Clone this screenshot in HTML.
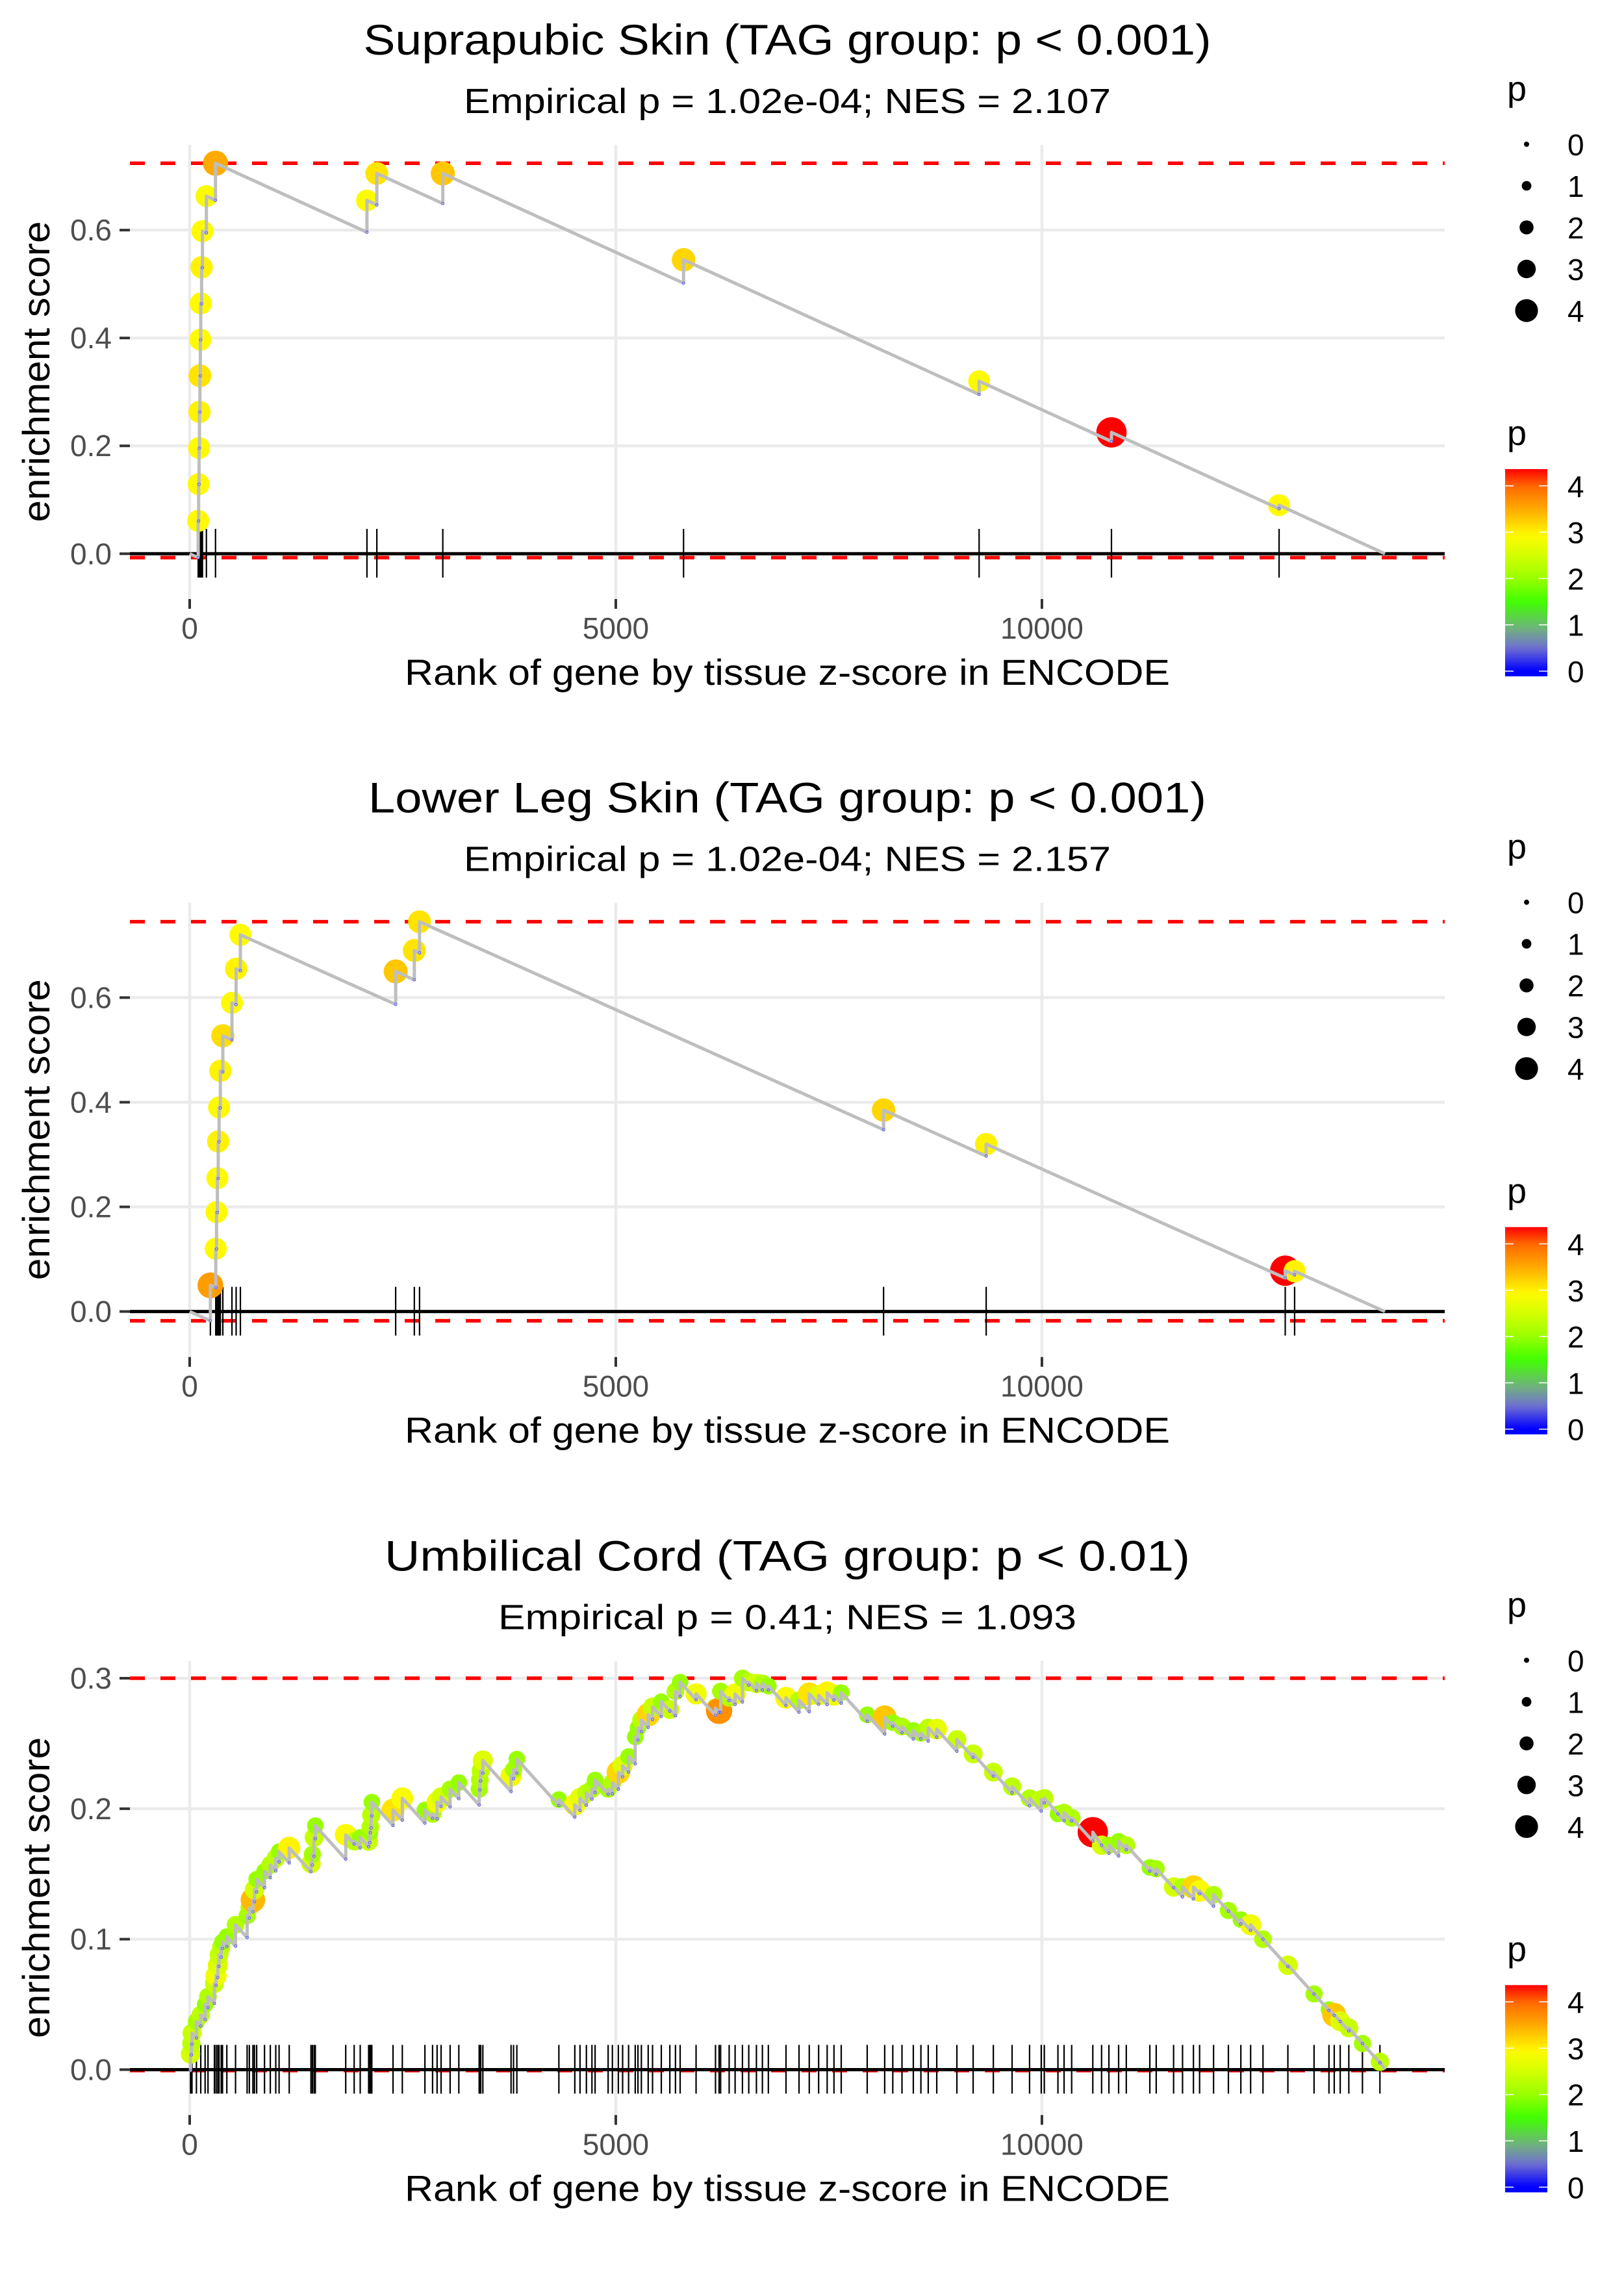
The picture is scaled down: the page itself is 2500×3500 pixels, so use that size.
<!DOCTYPE html>
<html><head><meta charset="utf-8">
<style>
html,body{margin:0;padding:0;background:#fff;}
svg{display:block;font-family:"Liberation Sans",Arial,sans-serif;}
</style></head>
<body>
<svg id="chart" width="2500" height="3500" viewBox="0 0 2500 3500" xmlns="http://www.w3.org/2000/svg"></svg>
<script>
// ---------- data ----------
const totalGenes = 14025;
const xTicks = [0, 5000, 10000];
const xTickLabels = ["0", "5000", "10000"];

const titles = ["Suprapubic Skin (TAG group: p < 0.001)", "Lower Leg Skin (TAG group: p < 0.001)", "Umbilical Cord (TAG group: p < 0.01)"];
const subtitles = ["Empirical p = 1.02e-04; NES = 2.107", "Empirical p = 1.02e-04; NES = 2.157", "Empirical p = 0.41; NES = 1.093"];

const yDomains = [[-0.084, 0.758], [-0.087, 0.781], [-0.0348, 0.3133]];
const yTicks1 = [0, 0.2, 0.4, 0.6];
const yTicks2 = [0, 0.2, 0.4, 0.6];
const yTicks3 = [0, 0.1, 0.2, 0.3];
const yTickLabels1 = ["0.0", "0.2", "0.4", "0.6"];
const yTickLabels2 = ["0.0", "0.2", "0.4", "0.6"];
const yTickLabels3 = ["0.0", "0.1", "0.2", "0.3"];
const missSlope = [7.2e-5, 7.3e-5, 7.2e-5];

// Panel 1: Suprapubic Skin
const ranks1 = [100, 105, 110, 115, 120, 125, 130, 140, 150, 196, 303, 2080, 2196, 2970, 5795, 9263, 10816, 12783];
const es1 = [0.061, 0.129, 0.196, 0.263, 0.33, 0.397, 0.464, 0.531, 0.598, 0.663, 0.724, 0.655, 0.705, 0.705, 0.545, 0.32, 0.225, 0.09];
const p1 = [2.95, 2.95, 2.95, 3.0, 3.1, 2.95, 2.95, 3.0, 2.95, 2.9, 3.5, 2.9, 3.1, 3.3, 3.2, 2.9, 4.4, 2.95];

// Panel 2: Lower Leg Skin
const ranks2 = [243, 306, 315, 325, 335, 345, 360, 389, 496, 545, 595, 2417, 2636, 2697, 8142, 9346, 12855, 12965];
const es2 = [0.05, 0.12, 0.19, 0.255, 0.325, 0.39, 0.46, 0.527, 0.59, 0.655, 0.72, 0.65, 0.69, 0.745, 0.385, 0.32, 0.078, 0.077];
const p2 = [3.6, 2.95, 2.95, 2.95, 3.0, 2.95, 3.0, 3.15, 2.95, 3.0, 2.95, 3.3, 3.1, 3.1, 3.2, 3.0, 4.4, 3.0];

// Panel 3: Umbilical Cord
const ranks3 = [10, 20, 27, 79, 130, 181, 215, 290, 310, 330, 344, 370, 385, 436, 538, 674, 700, 742, 760, 786, 878, 946, 1010, 1049, 1168, 1423, 1440, 1460, 1474, 1831, 1930, 2001, 2100, 2115, 2120, 2130, 2137, 2386, 2495, 2760, 2850, 2903, 2950, 3056, 3158, 3397, 3405, 3415, 3440, 3771, 3800, 3839, 4332, 4519, 4580, 4655, 4720, 4757, 4910, 4960, 5030, 5080, 5150, 5228, 5260, 5300, 5380, 5431, 5534, 5634, 5700, 5755, 5942, 6170, 6212, 6230, 6330, 6400, 6486, 6560, 6650, 6720, 6790, 6997, 7150, 7270, 7380, 7480, 7560, 7645, 7950, 8155, 8250, 8358, 8491, 8580, 8666, 8766, 9002, 9193, 9430, 9650, 9855, 9992, 10028, 10188, 10260, 10349, 10597, 10700, 10786, 10900, 10990, 11266, 11341, 11545, 11650, 11778, 11850, 12014, 12188, 12334, 12449, 12594, 12886, 13193, 13368, 13430, 13500, 13601, 13761, 13966];
const es3 = [0.012, 0.02, 0.028, 0.037, 0.042, 0.05, 0.056, 0.066, 0.072, 0.08, 0.088, 0.094, 0.098, 0.102, 0.111, 0.118, 0.124, 0.13, 0.138, 0.146, 0.152, 0.157, 0.162, 0.167, 0.17, 0.158, 0.165, 0.178, 0.187, 0.18, 0.175, 0.178, 0.175, 0.182, 0.186, 0.195, 0.205, 0.199, 0.208, 0.199, 0.196, 0.205, 0.209, 0.215, 0.22, 0.215, 0.222, 0.229, 0.237, 0.225, 0.23, 0.238, 0.207, 0.203, 0.208, 0.212, 0.215, 0.222, 0.215, 0.22, 0.228, 0.233, 0.24, 0.255, 0.262, 0.268, 0.272, 0.278, 0.282, 0.276, 0.29, 0.297, 0.288, 0.277, 0.275, 0.29, 0.285, 0.288, 0.3, 0.297, 0.296, 0.296, 0.294, 0.285, 0.283, 0.288, 0.287, 0.289, 0.287, 0.289, 0.272, 0.27, 0.266, 0.263, 0.26, 0.258, 0.262, 0.261, 0.253, 0.242, 0.228, 0.217, 0.208, 0.207, 0.208, 0.196, 0.197, 0.193, 0.182, 0.172, 0.172, 0.175, 0.172, 0.155, 0.154, 0.14, 0.14, 0.14, 0.137, 0.134, 0.122, 0.115, 0.111, 0.1, 0.08, 0.058, 0.046, 0.042, 0.037, 0.032, 0.02, 0.006];
const p3 = [2.5, 2.3, 2.4, 2.1, 2.3, 2.0, 2.2, 2.4, 2.8, 2.6, 2.4, 2.3, 2.0, 2.0, 2.2, 2.1, 2.2, 3.4, 2.5, 2.0, 2.0, 2.2, 2.3, 2.0, 3.0, 2.5, 2.1, 2.4, 2.0, 2.9, 2.3, 2.0, 2.4, 2.0, 2.2, 2.3, 2.0, 3.1, 2.9, 2.0, 2.2, 2.8, 2.5, 2.1, 2.0, 2.1, 2.2, 2.3, 2.6, 2.8, 2.1, 2.0, 2.0, 2.9, 2.7, 2.3, 2.2, 2.0, 2.1, 2.2, 3.2, 2.6, 2.0, 2.0, 2.0, 2.3, 3.2, 2.4, 2.0, 2.4, 2.2, 2.0, 2.8, 2.5, 3.7, 2.1, 2.2, 2.8, 2.1, 2.3, 2.5, 2.2, 2.0, 2.9, 2.2, 3.1, 2.6, 3.0, 2.8, 2.0, 2.0, 3.3, 2.0, 2.2, 2.0, 2.1, 2.3, 2.7, 2.4, 2.4, 2.4, 2.3, 2.2, 2.4, 2.3, 2.0, 2.2, 2.2, 4.4, 2.5, 2.1, 2.0, 2.2, 2.0, 2.1, 2.5, 2.2, 3.2, 2.9, 2.2, 2.1, 2.0, 2.8, 2.2, 2.5, 2.1, 2.0, 3.3, 2.6, 2.4, 2.1, 2.3];

const sizeLegendValues = [0, 1, 2, 3, 4];
const colorLegendValues = [0, 1, 2, 3, 4];

// ---------- layout ----------
const PANEL_H = 3500 / 3;
const L = 200, R = 2224, TOP = 223, BOT = 922;
const NS = "http://www.w3.org/2000/svg";
const svg = document.getElementById("chart");

function mk(tag, attrs, parent) {
  const e = document.createElementNS(NS, tag);
  for (const k in attrs) e.setAttribute(k, attrs[k]);
  (parent || svg).appendChild(e);
  return e;
}
const colorStops = [[0,[0,0,255]],[0.5,[112,112,208]],[0.9,[112,176,128]],[1.5,[64,255,0]],[2,[153,255,0]],[2.5,[212,255,0]],[2.95,[255,250,0]],[3.5,[255,170,0]],[4,[255,106,0]],[4.37,[255,0,0]]];
function pColor(v) {
  if (v <= colorStops[0][0]) return "rgb(0,0,255)";
  for (let i = 1; i < colorStops.length; i++) {
    if (v <= colorStops[i][0]) {
      const a = colorStops[i-1], b = colorStops[i];
      const t = (v - a[0]) / (b[0] - a[0]);
      const c = a[1].map((x, j) => Math.round(x + (b[1][j] - x) * t));
      return "rgb(" + c.join(",") + ")";
    }
  }
  return "rgb(255,0,0)";
}
function pRadius(v) { return 4 + 4.4 * v; }

const panels = [
  {ranks: ranks1, es: es1, p: p1, yt: yTicks1, ytl: yTickLabels1},
  {ranks: ranks2, es: es2, p: p2, yt: yTicks2, ytl: yTickLabels2},
  {ranks: ranks3, es: es3, p: p3, yt: yTicks3, ytl: yTickLabels3}
];

panels.forEach((pd, i) => {
  const oy = i * PANEL_H;
  const dom = yDomains[i];
  const xs = r => L + (r - (-0.05 * totalGenes)) / (1.1 * totalGenes) * (R - L);
  const ys = v => oy + BOT - (v - dom[0]) / (dom[1] - dom[0]) * (BOT - TOP);
  const g = mk("g", {});
  
  

  const t = mk("text", {x: 1212, y: oy + 84, "text-anchor": "middle", "font-size": 66, fill: "#000", textLength: [1305,1290,1240][i], lengthAdjust: "spacingAndGlyphs"}, g);
  t.textContent = titles[i];
  
  
  const st = mk("text", {x: 1212, y: oy + 174, "text-anchor": "middle", "font-size": 54, fill: "#000", textLength: [996,996,890][i], lengthAdjust: "spacingAndGlyphs"}, g);
  st.textContent = subtitles[i];
  
  

  pd.yt.forEach((v, k) => {
    const gl = mk("line", {x1: L, x2: R, y1: ys(v), y2: ys(v), stroke: "#ebebeb", "stroke-width": 4.5}, g);
    
    
    const tk = mk("line", {x1: L - 16, x2: L, y1: ys(v), y2: ys(v), stroke: "#333", "stroke-width": 4}, g);
    
    
    const tl = mk("text", {x: L - 28, y: ys(v) + 16, "text-anchor": "end", "font-size": 46, fill: "#4d4d4d"}, g);
    tl.textContent = pd.ytl[k];
    
    
  });
  xTicks.forEach((v, k) => {
    const gl = mk("line", {x1: xs(v), x2: xs(v), y1: oy + TOP, y2: oy + BOT, stroke: "#ebebeb", "stroke-width": 4.5}, g);
    
    
    const tk = mk("line", {x1: xs(v), x2: xs(v), y1: oy + BOT, y2: oy + BOT + 15, stroke: "#333", "stroke-width": 4}, g);
    
    
    const tl = mk("text", {x: xs(v), y: oy + 983, "text-anchor": "middle", "font-size": 46, fill: "#4d4d4d"}, g);
    tl.textContent = xTickLabels[k];
    
    
  });

  const slope = missSlope[i];
  const before = [];
  let prevR = 0, prevE = 0;
  let pathD = "M" + xs(0) + "," + ys(0);
  pd.ranks.forEach((r, k) => {
    const b = Math.min(prevE - slope * (r - prevR), pd.es[k]);
    before.push(b);
    pathD += " L" + xs(r) + "," + ys(b) + " L" + xs(r) + "," + ys(pd.es[k]);
    prevR = r; prevE = pd.es[k];
  });
  pathD += " L" + xs(totalGenes) + "," + ys(0);
  const maxE = Math.max(...pd.es), minE = Math.min(0, ...before);

  [maxE, minE].forEach((v, k) => {
    const dl = mk("line", {x1: L, x2: R, y1: ys(v), y2: ys(v), stroke: "#ff0000", "stroke-width": 5.5, "stroke-dasharray": "23,24"}, g);
    
    
  });
  const zl = mk("line", {x1: L, x2: R, y1: ys(0), y2: ys(0), stroke: "#000", "stroke-width": 5}, g);
  
  
  pd.ranks.forEach(r => {
    const rl = mk("line", {x1: xs(r), x2: xs(r), y1: oy + 814, y2: oy + 889, stroke: "#000", "stroke-width": 2.2}, g);
    
    
  });
  pd.ranks.forEach((r, k) => {
    const c = mk("circle", {cx: xs(r), cy: ys(pd.es[k]), r: pRadius(pd.p[k]), fill: pColor(pd.p[k])}, g);
    
    
  });
  const ln = mk("path", {d: pathD, fill: "none", stroke: "#bebebe", "stroke-width": 5, "stroke-linejoin": "round"}, g);
  
  
  pd.ranks.forEach((r, k) => {
    const c = mk("circle", {cx: xs(r), cy: ys(before[k]), r: 2, fill: "none", stroke: "#4040ff", "stroke-width": 0.8}, g);
    
    
  });

  const xt = mk("text", {x: 1212, y: oy + 1054, "text-anchor": "middle", "font-size": 56, fill: "#000", textLength: 1178, lengthAdjust: "spacingAndGlyphs"}, g);
  xt.textContent = "Rank of gene by tissue z-score in ENCODE";
  
  
  const ycy = oy + 572;
  const yt = mk("text", {x: 0, y: 0, transform: "translate(76," + ycy + ") rotate(-90)", "text-anchor": "middle", "font-size": 58, fill: "#000", textLength: 463, lengthAdjust: "spacingAndGlyphs"}, g);
  yt.textContent = "enrichment score";
  
  

  const sl = mk("text", {x: 2320, y: oy + 155, "font-size": 54, fill: "#000"}, g);
  sl.textContent = "p";
  
  
  sizeLegendValues.forEach((v, k) => {
    const cy = oy + 222 + k * 64;
    const c = mk("circle", {cx: 2350, cy: cy, r: 4 + 4 * v * 0.85, fill: "#000"}, g);
    
    
    const lt = mk("text", {x: 2413, y: cy + 17, "font-size": 46, fill: "#000"}, g);
    lt.textContent = String(v);
    
    
  });

  const cl = mk("text", {x: 2320, y: oy + 685, "font-size": 54, fill: "#000"}, g);
  cl.textContent = "p";
  
  
  const gid = "grad" + i;
  const defs = mk("defs", {}, g);
  const lg = mk("linearGradient", {id: gid, x1: 0, y1: 1, x2: 0, y2: 0}, defs);
  const vmin = -0.12, vmax = 4.37;
  for (let s = 0; s <= 40; s++) {
    const v = vmin + (vmax - vmin) * s / 40;
    mk("stop", {offset: (s / 40), "stop-color": pColor(v)}, lg);
  }
  const bar = mk("rect", {x: 2317, y: oy + 722, width: 65, height: 319, fill: "url(#" + gid + ")"}, g);
  
  
  colorLegendValues.forEach(v => {
    const cy = oy + 1033 - v * 71.3;
    mk("line", {x1: 2317, x2: 2330, y1: cy, y2: cy, stroke: "#fff", "stroke-width": 1.5}, g);
    mk("line", {x1: 2369, x2: 2382, y1: cy, y2: cy, stroke: "#fff", "stroke-width": 1.5}, g);
    const lt = mk("text", {x: 2413, y: cy + 17, "font-size": 46, fill: "#000"}, g);
    lt.textContent = String(v);
    
    
  });
});
</script>
</body></html>
